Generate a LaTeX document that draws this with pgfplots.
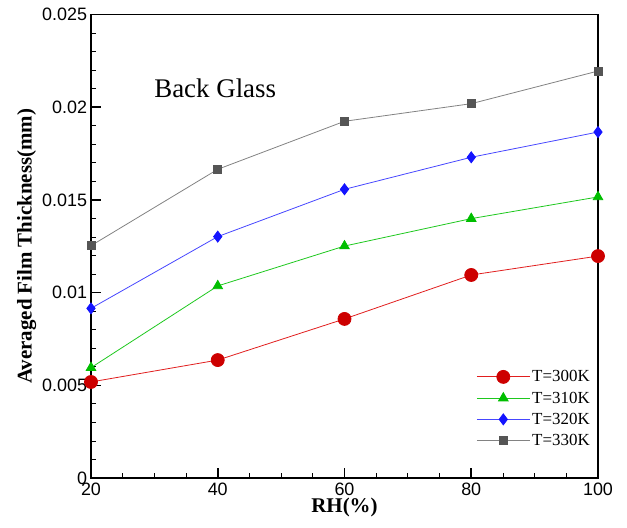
\documentclass[border=0pt]{standalone}
\usepackage{pgfplots}
\pgfplotsset{compat=1.18}
\usepackage{fontspec}
\setmainfont{Liberation Serif}
\newfontfamily\arialfont{Liberation Sans}

\definecolor{cred}{RGB}{225,30,30}
\definecolor{credm}{RGB}{205,0,0}
\definecolor{cgreen}{RGB}{30,200,30}
\definecolor{cgreenm}{RGB}{0,190,0}
\definecolor{cblue}{RGB}{70,70,255}
\definecolor{cbluem}{RGB}{20,20,255}
\definecolor{cgray}{RGB}{130,130,130}
\definecolor{cgraym}{RGB}{85,85,85}

\begin{document}
\begin{tikzpicture}
\begin{axis}[
  scale only axis,
  width=507bp, height=463.5bp,
  xmin=20, xmax=100, ymin=0, ymax=0.025,
  xtick={20,40,60,80,100},
  ytick={0,0.005,0.01,0.015,0.02,0.025},
  minor x tick num=3,
  minor y tick num=4,
  xtick pos=left, ytick pos=left,
  tick align=inside,
  major tick length=10bp, minor tick length=5bp,
  every tick/.style={black, line width=1.6bp},
  every minor tick/.style={black, line width=0.8bp},
  axis line style={line width=1.8bp},
  scaled y ticks=false,
  /pgf/number format/assume math mode=true,
  yticklabel style={/pgf/number format/fixed, /pgf/number format/precision=3, font=\arialfont\fontsize{18}{18}\selectfont, xshift=-0.5bp},
  xticklabel style={font=\arialfont\fontsize{18}{18}\selectfont, yshift=-1bp},
  xlabel={\bfseries RH(\%)},
  ylabel={\bfseries Averaged Film Thickness(mm)},
  xlabel style={font=\fontsize{21}{21}\selectfont, yshift=4bp},
  ylabel style={font=\fontsize{21}{21}\selectfont, yshift=-1bp},
  clip=false,
  legend cell align=left,
  legend image code/.code={\draw[mark repeat=2,mark phase=2] plot coordinates {(0bp,0bp) (26.5bp,0bp) (53bp,0bp)};},
  legend style={at={(0.99,0.06)}, anchor=south east, draw=none, fill=white,
    font=\fontsize{17}{17}\selectfont, row sep=4.5bp, inner sep=1bp},
]
\addplot[cred, line width=0.8bp, mark=*, mark size=6.5bp, mark options={fill=credm, draw=credm}]
  coordinates {(20,0.00518) (40,0.00636) (60,0.00858) (80,0.01095) (100,0.01197)};
\addlegendentry{T=300K}
\addplot[cgreen, line width=0.8bp, mark=triangle*, mark size=5.5bp, mark options={fill=cgreenm, draw=cgreenm}]
  coordinates {(20,0.00595) (40,0.01036) (60,0.01251) (80,0.01399) (100,0.01516)};
\addlegendentry{T=310K}
\addplot[cblue, line width=0.8bp, mark=diamond*, mark size=5.5bp, mark options={fill=cbluem, draw=cbluem}]
  coordinates {(20,0.00915) (40,0.01302) (60,0.01557) (80,0.0173) (100,0.01866)};
\addlegendentry{T=320K}
\addplot[cgray, line width=0.8bp, mark=square*, mark size=4bp, mark options={fill=cgraym, draw=cgraym}]
  coordinates {(20,0.01253) (40,0.01665) (60,0.01924) (80,0.02019) (100,0.02195)};
\addlegendentry{T=330K}
\node at (axis cs:39.6,0.02104) {\fontsize{27}{27}\selectfont Back Glass};
\end{axis}
\pgfresetboundingbox
\path (-91bp,-50bp) rectangle (536bp,478bp);
\end{tikzpicture}
\end{document}
